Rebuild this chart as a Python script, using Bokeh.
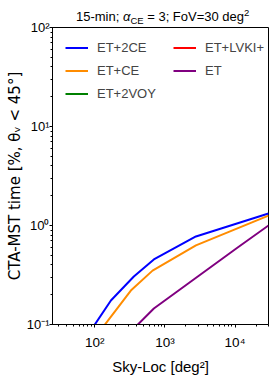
import math
from bokeh.plotting import figure
from bokeh.layouts import column
from bokeh.models import (Range1d, CustomJSTickFormatter, Legend,
                          LegendItem, ColumnDataSource, Div)
from bokeh.embed import file_html
from bokeh.resources import INLINE

nan = float("nan")

# ---- data ----
sky_loc_2ce = [88, 170, 361, 696, 2770, 30000]
time_2ce = [0.087, 0.175, 0.305, 0.454, 0.775, 1.32]

sky_loc_ce = [122, 327, 667, 2770, 30000]
time_ce = [0.088, 0.22, 0.35, 0.63, 1.26]

# not visible inside the plotted range
sky_loc_2voy = [nan]
time_2voy = [nan]

sky_loc_lvki = [nan]
time_lvki = [nan]

sky_loc_et = [361, 696, 10900, 30000]
time_et = [0.091, 0.145, 0.60, 1.0]

series_names = ["ET+2CE", "ET+CE", "ET+2VOY", "ET+LVKI+", "ET"]
series_colors = ["#0000ff", "#ff8c00", "#008000", "#ff0000", "#800080"]
series_x = [sky_loc_2ce, sky_loc_ce, sky_loc_2voy, sky_loc_lvki, sky_loc_et]
series_y = [time_2ce, time_ce, time_2voy, time_lvki, time_et]

FONT = "Liberation Sans"

p = figure(x_axis_type="log", y_axis_type="log",
           x_range=Range1d(25, 30000), y_range=Range1d(0.1, 100),
           frame_width=216, frame_height=297,
           min_border_left=52, min_border_right=6,
           min_border_top=8, min_border_bottom=58,
           output_backend="svg", toolbar_location=None, title=None,
           margin=0)

p.xgrid.visible = False
p.ygrid.visible = False
p.outline_line_color = "black"
p.outline_line_width = 1
p.background_fill_color = "white"
p.border_fill_alpha = 0

sup_code = """
const e = Math.round(Math.log10(tick));
const sup = {'-':'\u207b','0':'\u2070','1':'\u00b9','2':'\u00b2','3':'\u00b3','4':'\u2074','5':'\u2075','6':'\u2076','7':'\u2077','8':'\u2078','9':'\u2079'};
return '10' + String(e).split('').map(c => sup[c]).join('');
"""

for ax in (p.xaxis[0], p.yaxis[0]):
    ax.formatter = CustomJSTickFormatter(code=sup_code)
    ax.axis_line_color = "black"
    ax.major_tick_line_color = "black"
    ax.minor_tick_line_color = "black"
    ax.major_tick_in = 0
    ax.major_tick_out = 3
    ax.minor_tick_in = 0
    ax.minor_tick_out = 2
    ax.major_label_text_font = FONT
    ax.major_label_text_font_size = "13.5px"
    ax.major_label_text_color = "black"

p.yaxis[0].major_label_text_font_size = "13px"
p.xaxis[0].major_label_standoff = 7
p.yaxis[0].major_label_standoff = 0
p.xaxis[0].axis_label = "Sky-Loc [deg\u00b2]"
p.xaxis[0].axis_label_text_font = FONT
p.xaxis[0].axis_label_text_font_size = "15px"
p.xaxis[0].axis_label_text_font_style = "normal"
p.xaxis[0].axis_label_text_color = "black"
p.xaxis[0].axis_label_standoff = 5

p.yaxis[0].axis_label = "CTA-MST time [%, \u03b8\u1d65 < 45\u00b0]"
p.yaxis[0].axis_label_text_font = "DejaVu Sans"
p.yaxis[0].axis_label_text_font_size = "15px"
p.yaxis[0].axis_label_text_font_style = "normal"
p.yaxis[0].axis_label_text_color = "black"
p.yaxis[0].axis_label_standoff = 0

renderers = []
for xs, ys, col in zip(series_x, series_y, series_colors):
    src = ColumnDataSource(dict(x=xs, y=ys))
    r = p.line("x", "y", source=src, line_color=col, line_width=2)
    renderers.append(r)

legend = Legend(items=[LegendItem(label=n, renderers=[r]) for n, r in zip(series_names, renderers)],
                ncols=2, location=(13, 219.5), padding=0, margin=0, spacing=0,
                glyph_width=23, glyph_height=23, label_height=23, label_width=76,
                label_standoff=9, border_line_alpha=0, background_fill_alpha=0,
                label_text_font=FONT, label_text_font_size="13px")
p.add_layout(legend)

title_html = (
    "<div style=\"margin-left:76px; padding-top:9px; font-family:'Liberation Sans'; "
    "font-size:13px; line-height:15px; white-space:nowrap; color:black;\">"
    "15-min; <i>\u03b1</i><span style=\"font-size:9.5px; line-height:0; vertical-align:-3px;\">CE</span>"
    " = 3; FoV=30 deg<span style=\"font-size:9.5px; line-height:0; vertical-align:5px;\">2</span>"
    "</div>"
)
title_div = Div(text=title_html, width=274, height=19, margin=0,
                styles={"overflow": "visible"})

layout = column(title_div, p, spacing=0, margin=0)

open("out.html", "w").write(file_html(layout, INLINE))
